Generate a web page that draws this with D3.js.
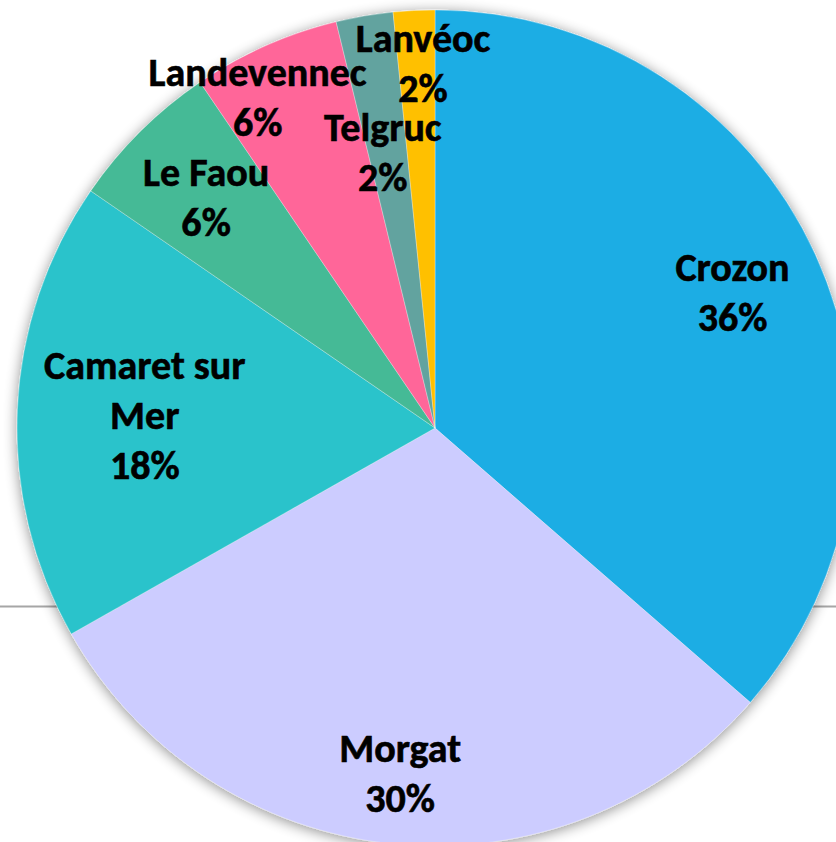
<!DOCTYPE html>
<html>
<head>
<meta charset="utf-8">
<script src="https://cdn.jsdelivr.net/npm/d3@7"></script>
<style>
  html, body { margin: 0; padding: 0; background: #ffffff; }
  svg { display: block; }
</style>
</head>
<body>
<div id="chart"></div>
<script>
// ---- data ----
const categories = ["Crozon", "Morgat", "Camaret sur Mer", "Le Faou", "Landevennec", "Telgruc", "Lanvéoc"];
const values = [36.4, 30.4, 17.8, 5.9, 5.7, 2.2, 1.6];
const colors = ["#1FADE4", "#CCCCFF", "#29C3CB", "#45BA96", "#FF6699", "#62A39F", "#FFC000"];
const labelLines = [["Crozon"], ["Morgat"], ["Camaret sur", "Mer"], ["Le Faou"], ["Landevennec"], ["Telgruc"], ["Lanvéoc"]];

// ---- layout ----
const W = 836, H = 842;
const cx = 435, cy = 428, R = 418;
const labelRadius = [0.782, 0.831, 0.695, 0.777, 0.897, 0.672, 0.873];
const labelAngleShift = [0, 0, 0, 0, -4.3, -1, 1]; // degrees
const lineH = 50, capH = 27;

const svg = d3.select("#chart").append("svg")
  .attr("width", W).attr("height", H);

const defs = svg.append("defs");
const f = defs.append("filter").attr("id", "shadow")
  .attr("x", "-20%").attr("y", "-20%").attr("width", "140%").attr("height", "140%");
f.append("feGaussianBlur").attr("in", "SourceAlpha").attr("stdDeviation", 7).attr("result", "b");
f.append("feOffset").attr("in", "b").attr("dx", 0).attr("dy", 2).attr("result", "o");
f.append("feComponentTransfer").attr("in", "o").attr("result", "s")
  .append("feFuncA").attr("type", "linear").attr("slope", 0.45);
const m = f.append("feMerge");
m.append("feMergeNode").attr("in", "s");
m.append("feMergeNode").attr("in", "SourceGraphic");

// background gray rule
svg.append("line")
  .attr("x1", 0).attr("x2", W).attr("y1", 606.5).attr("y2", 606.5)
  .attr("stroke", "#A6A6A6").attr("stroke-width", 2);

const pie = d3.pie().sort(null).value(d => d)(values);
const arc = d3.arc().innerRadius(0).outerRadius(R);

const g = svg.append("g").attr("transform", `translate(${cx},${cy})`);

g.append("g").attr("filter", "url(#shadow)")
  .selectAll("path").data(pie).join("path")
  .attr("d", arc)
  .attr("fill", (d, i) => colors[i])
  .attr("stroke", "#ffffff").attr("stroke-width", 0.6).attr("stroke-opacity", 0.5);

const total = d3.sum(values);
const fmt = v => Math.round(v / total * 100) + "%";

const labels = g.append("g")
  .attr("font-family", "Carlito, Lato, 'Open Sans', sans-serif")
  .attr("font-weight", "bold")
  .attr("font-size", 40)
  .attr("fill", "#000000")
  .attr("stroke", "#000000").attr("stroke-width", 0.6)
  .attr("text-anchor", "middle");

pie.forEach((d, i) => {
  const a = (d.startAngle + d.endAngle) / 2 + labelAngleShift[i] * Math.PI / 180;
  const r = labelRadius[i] * R;
  const x = r * Math.sin(a), y = -r * Math.cos(a);
  const lines = labelLines[i].concat([fmt(d.value)]);
  const b0 = y + capH / 2 - (lines.length - 1) * lineH / 2;
  const t = labels.append("text").attr("x", x).attr("y", b0);
  lines.forEach((ln, k) => {
    t.append("tspan").attr("x", x).attr("y", b0 + k * lineH).text(ln);
  });
});
</script>
</body>
</html>
